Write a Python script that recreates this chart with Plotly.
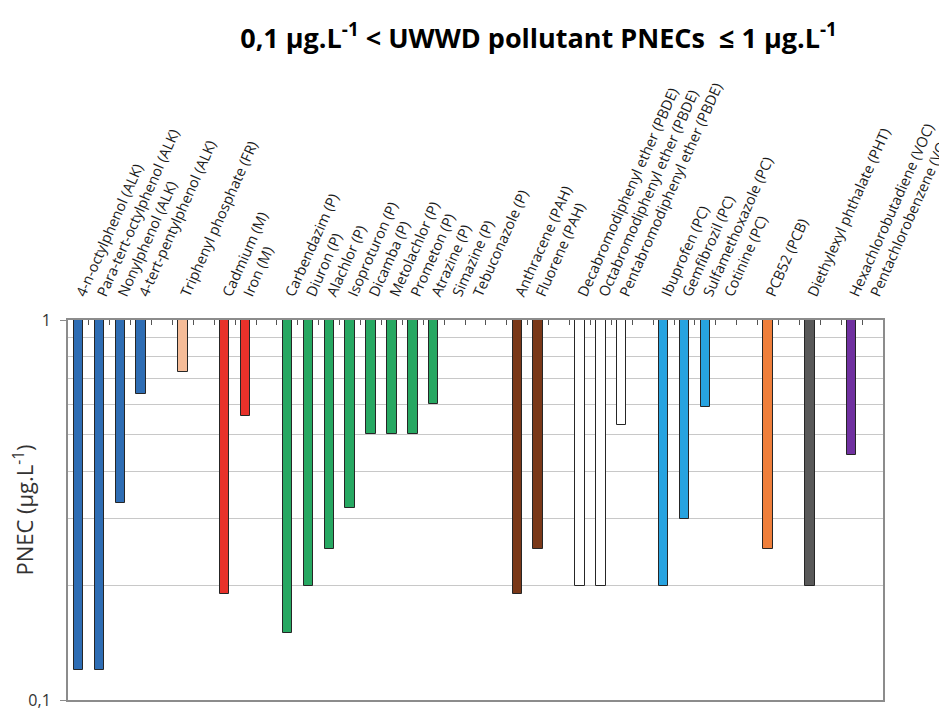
import plotly.graph_objects as go

# ---- data ----
categories = [
    "4-n-octylphenol (ALK)", "Para-tert-octylphenol (ALK)", "Nonylphenol (ALK)", "4-tert-pentylphenol (ALK)", "",
    "Triphenyl phosphate (FR)", "",
    "Cadmium (M)", "Iron (M)", "",
    "Carbendazim (P)", "Diuron (P)", "Alachlor (P)", "Isoproturon (P)", "Dicamba (P)", "Metolachlor (P)",
    "Prometon (P)", "Atrazine (P)", "Simazine (P)", "Tebuconazole (P)", "",
    "Anthracene (PAH)", "Fluorene (PAH)", "",
    "Decabromodiphenyl ether (PBDE)", "Octabromodiphenyl ether (PBDE)", "Pentabromodiphenyl ether (PBDE)", "",
    "Ibuprofen (PC)", "Gemfibrozil (PC)", "Sulfamethoxazole (PC)", "Cotinine (PC)", "",
    "PCB52 (PCB)", "",
    "Diethylexyl phthalate (PHT)", "",
    "Hexachlorobutadiene (VOC)", "Pentachlorobenzene (VOC)",
]
pnec_values = [
    0.12, 0.12, 0.33, 0.64, None,
    0.73, None,
    0.19, 0.56, None,
    0.15, 0.20, 0.25, 0.32, 0.50, 0.50,
    0.50, 0.60, 1.0, 1.0, None,
    0.19, 0.25, None,
    0.20, 0.20, 0.53, None,
    0.20, 0.30, 0.59, 1.0, None,
    0.25, None,
    0.20, None,
    0.44, 1.0,
]
groups = [
    "ALK", "ALK", "ALK", "ALK", None,
    "FR", None,
    "M", "M", None,
    "P", "P", "P", "P", "P", "P",
    "P", "P", "P", "P", None,
    "PAH", "PAH", None,
    "PBDE", "PBDE", "PBDE", None,
    "PC", "PC", "PC", "PC", None,
    "PCB", None,
    "PHT", None,
    "VOC", "VOC",
]
group_colors = {
    "ALK": "#2e6db4", "FR": "#f5bc98", "M": "#e8312a", "P": "#27a862",
    "PAH": "#7a3818", "PBDE": "#ffffff", "PC": "#27a3e0", "PCB": "#ef7f3b",
    "PHT": "#595959", "VOC": "#7031a0",
}
y_ticks = [0.1, 1]
y_ticktext = ["0,1", "1"]
grid_vals = [0.2, 0.3, 0.4, 0.5, 0.6, 0.7, 0.8, 0.9]

# ---- figure ----
positions = list(range(len(categories)))
fig = go.Figure()
for g, col in group_colors.items():
    xs, bases, lens = [], [], []
    for p, v, gg in zip(positions, pnec_values, groups):
        if gg == g and v is not None and v < 1:
            xs.append(p)
            bases.append(v)
            lens.append(1 - v)
    fig.add_trace(go.Bar(
        x=xs, y=lens, base=bases, name=g, width=0.45,
        marker=dict(color=col, line=dict(color="#262626", width=1)),
        showlegend=False,
    ))

# invisible trace on label axis
fig.add_trace(go.Scatter(x=[0], y=[1], xaxis="x2", mode="markers",
                         marker=dict(opacity=0), showlegend=False, hoverinfo="skip"))

label_pos = [p for p, c in zip(positions, categories) if c]
label_txt = [c for c in categories if c]

n = len(categories)
fig.update_layout(
    width=939, height=700,
    margin=dict(l=60, r=64, t=312, b=8, autoexpand=False),
    paper_bgcolor="white", plot_bgcolor="white",
    font=dict(family="Open Sans", color="#262626"),
    title=dict(
        text="0,1 µg.L<sup>-1</sup> < UWWD pollutant PNECs  ≤ 1 µg.L<sup>-1</sup>",
        x=0.565, xanchor="center", y=0.957, yanchor="middle",
        font=dict(size=27, family="Open Sans", weight="bold", color="#000000"),
    ),
    bargap=0,
    xaxis=dict(
        range=[-0.5, n - 0.5], side="top",
        tickvals=[i - 0.5 for i in range(n + 1)], showticklabels=False,
        ticks="inside", ticklen=5, tickcolor="#555555", tickwidth=1,
        showgrid=False, zeroline=False,
        showline=True, linecolor="#8c8c8c", linewidth=2, mirror=True,
        fixedrange=True,
    ),
    xaxis2=dict(
        range=[-0.5, n - 0.5], side="top", overlaying="x",
        tickvals=label_pos, ticktext=label_txt, tickangle=-66,
        ticks="", showgrid=False, zeroline=False, showline=False,
        tickfont=dict(size=14.5, family="Open Sans", color="#1a1a1a"),
        ticklabelstandoff=14, ticklabeloverflow="allow",
    ),
    yaxis=dict(
        type="log", range=[-1, 0],
        tickvals=y_ticks, ticktext=y_ticktext,
        ticks="outside", ticklen=6, tickcolor="#8c8c8c",
        tickfont=dict(size=16, color="#333333"),
        ticklabelstandoff=6, ticklabeloverflow="allow",
        showgrid=False, zeroline=False,
        showline=True, linecolor="#8c8c8c", linewidth=2, mirror=True,
        minor=dict(tickvals=grid_vals, showgrid=True, gridcolor="#c8c8c8", gridwidth=1, ticks=""),
        title=dict(text="PNEC (µg.L<sup>-1</sup>)", font=dict(size=22, color="#333333"), standoff=6),
    ),
)

fig.write_html("out.html")
